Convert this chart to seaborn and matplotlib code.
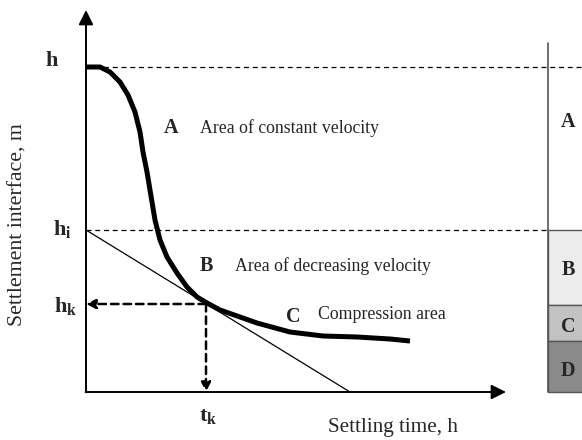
import matplotlib
matplotlib.use("Agg")
import matplotlib.pyplot as plt
import seaborn as sns
import pandas as pd

# Settling curve (time, interface height) in arbitrary units
curve_t = [0.0, 0.35, 0.6, 0.85, 1.05, 1.225, 1.35, 1.425, 1.525, 1.6, 1.725, 1.85,
           2.025, 2.275, 2.525, 2.775, 3.025, 3.35, 3.85, 4.275, 5.1, 5.925, 6.775,
           7.6, 8.1]
curve_h = [8.125, 8.125, 8.0, 7.75, 7.425, 7.0, 6.5, 6.0, 5.5, 5.05, 4.3, 3.8,
           3.375, 2.975, 2.625, 2.375, 2.225, 2.05, 1.875, 1.725, 1.5, 1.4, 1.375,
           1.325, 1.275]

# Characteristic levels
h0 = 8.125      # initial interface height
h_i = 4.05      # start of the tangent
h_k = 2.2       # critical height
t_k = 3.0       # critical time

# Tangent at the critical point
tangent_t = [0.0, 6.6]
tangent_h = [h_i, 0.0]

# Column of settling zones (bottom, top, fill)
zone_names = ["A", "B", "C", "D"]
zone_bottom = [4.05, 2.175, 1.275, 0.0]
zone_top = [8.725, 4.05, 2.175, 1.275]
zone_fill = ["white", "#ececec", "#c2c2c2", "#8a8a8a"]

# Region annotations
region_letters = ["A", "B", "C"]
region_texts = ["Area of constant velocity", "Area of decreasing velocity", "Compression area"]

sns.set_theme(style="white")
plt.rcParams["font.family"] = ["Liberation Serif", "DejaVu Serif"]
plt.rcParams["mathtext.fontset"] = "custom"
plt.rcParams["mathtext.rm"] = "Liberation Serif"
plt.rcParams["mathtext.bf"] = "Liberation Serif:bold"
plt.rcParams["mathtext.it"] = "Liberation Serif:italic"

fig = plt.figure(figsize=(5.82, 4.40), dpi=100)
ax = fig.add_axes([0, 0, 1, 1])
ax.set_xlim(-2.15, 12.4)
ax.set_ylim(-1.2, 9.8)
ax.axis("off")

# Axes with arrow heads
ax.annotate("", xy=(0, 9.55), xytext=(0, -0.01),
            arrowprops=dict(arrowstyle="-|>", lw=1.4, color="black", mutation_scale=22,
                            shrinkA=0, shrinkB=0))
ax.annotate("", xy=(10.5, 0), xytext=(-0.01, 0),
            arrowprops=dict(arrowstyle="-|>", lw=1.4, color="black", mutation_scale=22,
                            shrinkA=0, shrinkB=0))

# Horizontal reference levels
ax.plot([0, 12.4], [h0, h0], color="black", lw=0.9, ls=(0, (4, 3)), zorder=3)
ax.plot([0, 11.55], [h_i, h_i], color="black", lw=0.9, ls=(0, (4, 3)))

# Tangent line
tan_df = pd.DataFrame({"t": tangent_t, "h": tangent_h})
sns.lineplot(data=tan_df, x="t", y="h", ax=ax, color="black", lw=0.9, sort=False)

# Settling curve
curve_df = pd.DataFrame({"t": curve_t, "h": curve_h})
sns.lineplot(data=curve_df, x="t", y="h", ax=ax, color="black", lw=3.6, sort=False,
             solid_capstyle="butt", solid_joinstyle="round")

# Projection of the critical point onto both axes
dash_arrow = dict(arrowstyle="-|>", lw=1.8, color="black", ls=(0, (3, 2)),
                  mutation_scale=14, shrinkA=0, shrinkB=0)
ax.annotate("", xy=(0.0, h_k), xytext=(t_k, h_k), arrowprops=dash_arrow)
ax.annotate("", xy=(t_k, 0.0), xytext=(t_k, h_k), arrowprops=dash_arrow)

# Zone column
col_left = 11.55
letter_shift = [0.36, -0.06, -0.1, -0.12]
for name, lo, hi, fc, dy in zip(zone_names, zone_bottom, zone_top, zone_fill, letter_shift):
    ax.bar(col_left, hi - lo, bottom=lo, width=1.6, align="edge", color=fc,
           edgecolor="none" if name == "A" else "#555555", linewidth=1.0, zorder=1)
    ax.text(col_left + 0.5, (lo + hi) / 2 + dy, name,
            fontsize=14.5, fontweight="bold", ha="center", va="center")
ax.plot([col_left, col_left], [0, 8.725], color="#555555", lw=1.2)

# Level labels
ax.text(-0.85, h0 + 0.15, r"$\mathbf{h}$", fontsize=16, ha="center", va="center")
ax.text(-0.6, h_i + 0.03, r"$\mathbf{h_i}$", fontsize=16, ha="center", va="center")
ax.text(-0.5, h_k - 0.05, r"$\mathbf{h_k}$", fontsize=16, ha="center", va="center")
ax.text(t_k + 0.06, -0.6, r"$\mathbf{t_k}$", fontsize=16, ha="center", va="center")

# Region labels
letter_pos = [(2.13, 6.6), (3.02, 3.15), (5.18, 1.88)]
text_pos = [(2.85, 6.6), (3.72, 3.15), (5.8, 1.93)]
for letter, txt, (lx, ly), (tx, ty) in zip(region_letters, region_texts, letter_pos, text_pos):
    ax.text(lx, ly, letter, fontsize=14.5, fontweight="bold", ha="center", va="center")
    ax.text(tx, ty, txt, fontsize=12.8, ha="left", va="center")

# Axis titles
ax.text(-1.7, 4.175, "Settlement interface, m", fontsize=15.7, rotation=90,
        ha="center", va="center")
ax.text(7.675, -0.88, "Settling time, h", fontsize=15.2, ha="center", va="center")

fig.savefig("out.png", dpi=100)
